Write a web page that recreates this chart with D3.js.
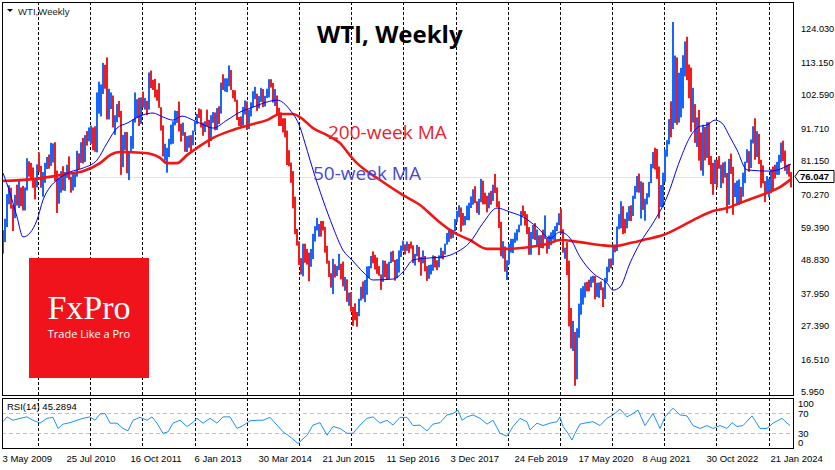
<!DOCTYPE html>
<html><head><meta charset="utf-8">
<script src="https://cdn.jsdelivr.net/npm/d3@7"></script>
<style>html,body{margin:0;padding:0;background:#fff}svg{display:block}</style>
</head><body>
<svg id="chart" width="835" height="470"></svg>
<script>
// ---------- DATA (two-week periods starting 26 Apr 2009) ----------
const firstPeriod = "2009-04-26";
const periodDays = 14;
const highs = [
 58.6,62.3,70.3,73.2,72.4,66.9,70.1,73.4,75,72.5,73,72.5,82,81,80.5,79,75,80,
 83.9,79.5,77.5,80.5,82.4,83.2,87,86.8,87.2,78,75.7,77.8,79.4,77.5,79.9,82.6,76,77,77.5,84.4,83.6,87.2,88.6,89.5,90.8,92,
 92.6,92,92.4,103.4,106.9,106,113,112.4,114.8,104.6,103.4,102.4,96,99.6,100.6,97.4,89.6,90.5,90.5,84.2,89.2,94.7,103.4,101.2,101.7,101.8,
 103.7,101.6,100.7,109.9,110.5,107.5,107.8,104.3,106.4,98.6,92.7,86.7,85.4,88.3,92.9,94,97.5,97.4,100.4,93.2,93.6,90.5,89.2,89.4,89.5,91,
 94,96.4,98.2,97.9,93.6,94,97.8,94.5,96,97,96.9,98.3,98.9,106.6,109.3,108,108,112.2,110.7,104.2,104.1,101,95.4,95.6,98.7,100.8,
 100.5,97.8,100.2,103.8,105.2,103,102.2,104.9,104.5,102.3,104.6,107.7,107.7,106.5,104.5,102.4,98.4,96.9,95,95,91,84.6,80.6,77.8,69.5,59,
 55,49.5,54.2,54.2,52.5,51.3,52.5,57.4,59.9,62.6,60.6,61.6,61.6,59.7,53.5,48.7,44.6,49.3,47.5,47,50.9,47.7,48.4,43.4,42.6,38.3,
 38.4,33.6,34.8,32,36.3,40.2,41.9,42.4,46.8,46.9,50.2,51.7,50.6,49.7,46.9,44.2,48.8,48.7,47.7,48.3,51.6,51.9,48.9,49.2,52,53.6,
 55.2,54,54.9,54.1,54.9,53.7,50.9,53.8,53.2,49.9,52,50.2,46.9,47.3,47.4,50.4,50.2,48.8,50.4,52.9,51.9,54.2,57.7,59.1,58.9,58.7,
 62.2,64.9,66.7,66,64.2,63.2,66.6,67.5,69.6,71.9,72.9,68,68.8,75.3,74.7,70.8,69.8,70.8,71.4,73.4,76.9,72.5,68,61.3,55,53.3,
 48.8,54.1,55.8,55.8,57.8,58.9,60.4,64.8,66.6,64.8,63.8,59.6,58,60.3,60.9,58.8,56.9,57,58.8,63.4,56.2,56.9,57.9,58.7,59.9,61.1,
 64.1,65.6,58.9,52.9,54.7,48.7,33.3,29.1,25.5,26.7,34.7,39.7,40.4,41.6,41.8,42.5,43.5,43.8,43.7,41.5,41.6,41.9,40,43.1,46.7,49.3,49.4,
 53.9,53.9,59.8,63.8,68,66.4,62.3,64.4,66.4,66.7,69.8,73,76.2,77,74.5,74.1,68.8,70.6,74.3,80.1,84,85.4,85,79.3,73.3,77.3,
 84.8,87.9,94.7,100.5,126.3,115.4,114.8,109.8,111.4,115.5,120,121.5,112.5,111.5,104.9,99.6,95.3,97.7,90.4,92.9,92.2,93.7,93.7,82.7,80.5,81.5,
 81.5,82.7,79.9,80.6,80.9,77.2,81.8,83.5,79.2,74,74.7,75.1,72.7,77.3,80.9,84.9,84.3,88.1,92.4,95,90.8,89.9,81.5,79.7,74.6,76.2,
 75.3,78.4,79.3,79.9,80.8,83.1,87.1,87.7,84.5,79.9,80.1,77.5
];
const lows = [
 51,54.7,59.6,67,65.6,58.3,62.5,66.6,65.8,66.4,65,65,71.5,76,75,72.4,68.6,72.5,
 77.5,72.4,69.5,74,78.5,78.6,79.5,80.6,74.5,64.2,67.2,70.8,71.5,71.4,75.6,75,70.8,71.5,72.6,76,78.5,80.5,80.3,80.8,86.1,87.5,
 86.7,84.6,84.1,83.9,96.5,95.6,102.9,104.6,94.6,94.6,98,92,89.6,93.7,95.3,76.6,79.1,84.6,77.1,74.9,84,85.1,93.6,95.1,92.5,93.2,
 98.5,97.8,96,97.8,104.8,104.2,101.8,100.7,98.4,91,82.6,81.2,77.3,82.4,86.5,86.7,92.7,93.5,90.7,87.4,89.3,84.1,84,85.4,84.1,86.2,
 90.6,93.1,95.1,92,89.3,90.5,92.4,85.6,87.6,93.5,91.1,91.2,93.1,96.5,104.2,103.7,103.5,105.4,104.2,101.5,100.4,94.4,92.5,91.8,92.6,96.2,
 91.2,91.5,95.6,98.6,101.2,97.4,98.2,100.3,98.6,98.8,101.6,101.8,105,100.1,99,96.1,92.5,92.5,90.4,88.8,79.8,79.4,74,65.7,57.3,53.6,
 47.3,44.2,43.6,48,47.4,42,46.7,49.2,54.9,58.5,56.5,56.5,58.5,51.3,47.7,43.4,39.9,37.8,43.2,43.7,45.6,42.6,40.3,38.9,35.3,34,
 32.1,27.5,29.3,27.2,30.6,35.7,36.3,35.2,37.6,43,46.2,47.8,45.8,44.4,43.8,39.2,41.8,43.3,42.5,42.6,47.9,48.3,42.2,43,44.8,49.9,
 51.9,50.7,51.9,51.2,52.6,47.9,47.1,50.1,48.2,43.8,47.8,45.2,42.1,42.8,44.2,45.4,46.5,45.6,46.5,49.4,49.1,50.7,53.9,54.8,55.8,56.1,
 58.2,61.2,62.8,58.1,60.1,60.2,61.9,61.8,65.8,66.9,67.4,64.2,63.6,67.7,67,67,64.4,65.7,66.9,68.1,70.7,66.1,59.3,50.1,49.4,45.1,
 42.4,47.5,51.3,51.2,54.5,55.2,57.9,60.1,63.1,60.1,57.3,50.6,50.6,55.7,55.4,53.6,50.5,52.8,52.7,55.7,51,52.5,53.7,55.5,54.7,58.3,
 60.2,57.4,51.3,49.3,44,27.3,20.1,19.3,8,10.1,23.6,31.1,34.4,36.7,38.7,38.7,40,41.5,36.1,36.9,36.6,39.1,33.6,36.2,41.8,44.9,46.2,
 47.2,51.4,51.8,58.9,59.2,57.3,57.6,59.2,61.6,61.6,63.2,68.8,70.9,70.8,62.4,65.2,61.7,67,69.3,73.9,78.7,78.3,75.3,62.4,66.1,66.1,
 74.3,82.5,86.5,88.8,91.5,93.5,92.9,93.6,95.3,98.2,108.6,107.4,101.5,90.6,93.6,87,85.7,81.2,78,76.3,81.3,82.1,79.8,73.6,70.1,73.6,
 72.5,78.6,72.3,73.8,75.7,64.1,66.8,76.9,63.6,69.4,67,66.8,67.1,69.5,73.9,80.5,77.6,78.8,86.8,81.5,82.4,80.1,72.4,73.8,67.7,70.8,
 69.3,70.6,71.4,75.4,76.6,76.6,80.6,81.1,77.9,76.8,76,72.5
];
const closes = [
 58.6,61.7,68.4,69.6,66.7,63.6,69.5,67.5,72.7,69.3,66,71.8,80.5,77.4,77,75.5,73.4,79.4,
 78,72.9,74.1,79.7,81.2,80,84.9,85.1,75.1,70,71.5,77.2,72.1,76,78.9,75.4,75.2,76.4,76.5,82.7,81.7,86.9,81.5,89.2,88,91.4,
 91.5,89.3,85.6,97.9,101.2,105.4,112.8,112.3,97.2,99.5,100.2,93,95,97.2,95.7,85.4,85.4,87.2,79.9,82.9,87.4,94.3,97.4,101,93.5,98.8,
 98.7,99.6,98.7,109.8,107.4,106.9,103.3,103,98.5,91.5,83.2,84,85,87.1,90.1,92.9,96.2,96.4,92.9,89.9,90.1,84.9,86.9,88.9,86.7,90.8,
 93.6,95.9,95.7,93.1,91.9,93.7,92.7,88,95.6,96,92,97.9,96.6,106,104.7,106,106.4,110.5,104.7,103.8,100.8,94.6,93.8,92.7,96.6,100.3,
 92.7,96.6,99.9,102.2,102.6,99.5,101.1,104.3,99.8,102,102.7,107,105.7,100.8,102.1,97.7,93.7,93.3,92.4,89.7,82.8,80.5,75.8,66.2,57.8,54.7,
 48.4,45.6,51.7,50.8,49.6,45.7,49.1,55.7,59.2,59.7,60.3,60,59.6,52.7,48.1,43.9,40.5,46.1,44.7,45.5,47.3,46.6,40.7,41.7,35.6,38.1,
 33.2,32.2,30.9,29.6,35.9,39.4,36.8,40.4,45.9,46.2,49.3,49.1,47.6,45.4,44.2,41.8,48.5,44.4,43,48.2,50.4,48.7,43.4,46.1,51.5,53,
 54,52.4,53.8,53.4,53.3,48.8,50.6,53.2,49.3,47.8,49.8,45.8,43,44.2,45.8,49.6,48.5,47.3,49.9,51.7,51.5,53.9,56.7,59,57.4,58.5,
 61.4,63.4,65.5,61.7,61.3,62.3,64.9,67.4,68.1,70.7,67.9,65.7,68.6,73.8,70.5,68.5,65.9,69.8,69,73.2,71.3,67.6,60.2,50.4,52.6,45.6,
 48,53.8,55.3,55.6,55.8,58.5,60.1,63.9,63.3,61.7,58.6,54,57.4,57.5,55.6,55.7,54.9,55.1,54.9,55.9,54.7,56.7,57.2,57.8,59.2,60.4,
 63,58.5,51.6,52,44.8,31.7,21.5,22.8,17,24.7,33.3,39.6,39.8,40.7,40.6,40.3,42,43,37.3,40.3,40.6,39.9,37.1,42.2,46.3,49.1,48.5,
 52.4,52.2,59.5,61.5,65.6,61,59.3,62.1,64.9,63.6,69.6,71.6,75.2,71.8,74,68.4,68.7,69.7,74,79.4,83.8,81.3,76.1,66.3,70.9,75.2,
 83.8,86.8,93.1,91.6,109.3,113.9,98.3,102.1,109.8,113.2,118.9,109.6,108.4,97.6,98.6,92.1,93.1,86.8,78.7,92.6,85,92.6,80.1,80,74.3,80.3,
 79.9,79.7,79.7,76.3,76.7,69.3,80.7,77.9,71.3,71.7,71.7,71.8,70.6,75.4,80.6,83.2,79.8,87.5,90,82.8,88.1,80.5,75.9,74.1,71.4,71.7,
 72.7,78,76.8,76.5,78,80.6,86.9,83.1,78.1,80,77,76.05
];
// moving averages: weeks since 3 May 2009 and value
const ma200Weeks = [-1,30,64,80,97,107,117,142,157,164,174,184,197,210,230,250,264,277,290,297,310,324,337,349,354,377,400,417,434,450,467,484,504,527,544,557,577,597,610,627,644,660,677,694,710,724,740,764,777,788];
const ma200Values = [74.6,75.2,76.9,77.8,80.4,83.0,84.0,83.7,82.1,80.4,80.4,83.0,86.0,88.6,91.2,93.1,94.4,96.4,96.4,95.4,91.8,89.5,86.9,82.1,80.4,74.9,70.0,66.8,61.9,58.0,55.4,52.5,52.5,53.1,54.1,55.4,54.7,53.8,53.4,54.4,55.7,57.0,59.6,62.5,64.8,65.8,67.8,70.7,72.6,75.2];
const ma50Weeks = [0,7,14,20,27,34,40,47,54,67,80,94,104,114,124,140,150,160,170,179,190,197,210,224,237,250,264,274,287,297,302,307,310,320,330,340,349,360,370,390,400,410,424,440,454,467,480,494,507,520,534,547,557,567,577,590,604,610,617,627,637,650,664,677,687,697,704,712,719,727,734,744,767,788];
const ma50Values = [77.2,70.7,62.9,56.4,57.7,61.9,68.4,72.6,74.9,77.5,78.8,81.4,86.9,91.8,93.4,96.1,96.7,95.4,94.4,95.7,94.4,93.4,91.8,94.4,97.0,98.6,100.3,100.9,97.7,92.1,86.9,81.4,78.2,68.4,59.6,52.1,48.9,45.0,42.4,42.7,45.0,48.9,49.5,49.9,51.5,54.7,60.9,65.8,64.5,62.9,59.6,56.0,58.0,56.0,49.9,44.6,41.4,39.1,40.1,47.9,54.4,60.9,69.4,81.4,88.9,92.4,92.8,94.4,93.4,88.9,84.7,78.2,77.8,80.1];
// RSI(14)
const rsiWeeks = [0,4,10,17,24,30,37,44,50,55,60,67,74,80,87,92,97,102,107,114,120,125,130,137,144,149,154,160,165,170,177,184,189,194,200,207,214,220,227,234,240,247,254,260,267,274,280,287,295,304,310,317,324,330,337,344,350,357,364,370,377,384,390,397,404,410,417,424,430,437,444,450,455,459,464,470,477,484,490,497,504,510,517,524,527,534,540,547,554,557,560,565,569,572,577,584,590,597,604,610,617,624,630,635,642,650,657,662,670,677,684,690,697,704,710,717,724,729,734,740,749,757,764,770,779,784,787];
const rsiValues = [53,63,56,60,63,56,50,60,62,39,48,51,56,60,63,56,69,70,50,50,39,34,56,62,56,63,50,29,32,50,56,43,50,60,50,60,50,63,63,39,45,55,56,56,62,46,32,22,8,25,46,51,25,43,39,29,29,46,60,63,50,56,46,62,62,45,46,34,48,51,67,70,77,56,63,67,60,48,56,29,23,43,60,53,36,50,45,50,53,63,43,29,15,29,48,51,53,45,60,67,79,63,70,77,45,70,39,63,81,67,65,45,39,45,39,45,39,51,43,45,65,39,39,50,60,50,45.29];
const priceTicks = [124.03,113.15,102.59,91.71,81.15,70.27,59.39,48.83,37.95,27.39,16.51,5.95];
const rsiTicks = [100,70,30,0];
const rsiLevels = [70,30];
const dateLabels = ["3 May 2009","25 Jul 2010","16 Oct 2011","6 Jan 2013","30 Mar 2014","21 Jun 2015","11 Sep 2016","3 Dec 2017","24 Feb 2019","17 May 2020","8 Aug 2021","30 Oct 2022","21 Jan 2024"];
const gridYears = [2010,2011,2012,2013,2014,2015,2016,2017,2018,2019,2020,2021,2022,2023,2024];
const lastPrice = 76.047;
const lastRsi = 45.2894;

if (lows.length !== highs.length || closes.length !== highs.length)
  throw new Error("length mismatch " + highs.length + " " + lows.length + " " + closes.length);

// ---------- LAYOUT ----------
const left = 2, right = 794, mainTop = 2, mainBottom = 395, rsiTop = 398, rsiBottom = 449;
const DAY = 864e5, WEEK = 7 * DAY;
const t0 = Date.UTC(2009, 4, 3);
const weekDate = w => new Date(t0 + w * WEEK);
const x = d3.scaleUtc().domain([weekDate(-1), weekDate(791)]).range([left, right]);
const y = d3.scaleLinear().domain([4.99, 132.81]).range([mainBottom, mainTop]);
const yR = d3.scaleLinear().domain([0, 100]).range([447.3, 399]);

const svg = d3.select("#chart");
const defs = svg.append("defs");
defs.append("clipPath").attr("id", "cm").append("rect")
  .attr("x", left).attr("y", mainTop).attr("width", right - left).attr("height", mainBottom - mainTop);
defs.append("clipPath").attr("id", "cr").append("rect")
  .attr("x", left).attr("y", rsiTop).attr("width", right - left).attr("height", rsiBottom - rsiTop);

svg.append("rect").attr("width", 835).attr("height", 470).attr("fill", "#fff");

const main = svg.append("g").attr("clip-path", "url(#cm)");
const rsiG = svg.append("g").attr("clip-path", "url(#cr)");

// current price line
main.append("line").attr("x1", left).attr("x2", right)
  .attr("y1", Math.round(y(lastPrice)) + 0.5).attr("y2", Math.round(y(lastPrice)) + 0.5)
  .attr("stroke", "#e4e4e4").attr("stroke-width", 1);

// grid lines (first bar of each year)
const gridDates = gridYears.map(yr => d3.utcSunday.ceil(new Date(Date.UTC(yr, 0, 1))));
[ [main, mainTop, mainBottom], [rsiG, rsiTop, rsiBottom] ].forEach(([g, a, b]) => {
  g.selectAll(null).data(gridDates).enter().append("line")
    .attr("x1", d => Math.round(x(d)) + 0.5).attr("x2", d => Math.round(x(d)) + 0.5)
    .attr("y1", a).attr("y2", b)
    .attr("stroke", "#000").attr("stroke-width", 1).attr("stroke-dasharray", "3,2");
});

// price bars
const p0 = Date.parse(firstPeriod + "T00:00:00Z");
const bars = highs.map((h, i) => ({
  t0: new Date(p0 + i * periodDays * DAY),
  t1: new Date(p0 + (i + 1) * periodDays * DAY),
  h, l: lows[i], c: closes[i],
  up: i === 0 ? true : closes[i] >= closes[i - 1]
}));
main.selectAll("rect.bar").data(bars).enter().append("rect").attr("class", "bar")
  .attr("x", d => x(d.t0)).attr("width", d => x(d.t1) - x(d.t0))
  .attr("y", d => y(d.h)).attr("height", d => Math.max(1, y(d.l) - y(d.h)))
  .attr("fill", d => d.up ? "#1466ff" : "#f21c1c");

// moving averages
const lineGen = d3.line().x(d => x(weekDate(d[0]))).y(d => y(d[1])).curve(d3.curveMonotoneX);
main.append("path").datum(ma200Weeks.map((w, i) => [w, ma200Values[i]]))
  .attr("d", lineGen).attr("fill", "none").attr("stroke", "#f01616").attr("stroke-width", 2.6);
main.append("path").datum(ma50Weeks.map((w, i) => [w, ma50Values[i]]))
  .attr("d", lineGen).attr("fill", "none").attr("stroke", "#0000ff").attr("stroke-width", 1);

// RSI pane
rsiG.selectAll(null).data(rsiLevels).enter().append("line")
  .attr("x1", left).attr("x2", right)
  .attr("y1", d => Math.round(yR(d)) + 0.5).attr("y2", d => Math.round(yR(d)) + 0.5)
  .attr("stroke", "#c0c0c0").attr("stroke-dasharray", "4,3");
const rsiLine = d3.line().x(d => x(weekDate(d[0]))).y(d => yR(d[1]));
rsiG.append("path").datum(rsiWeeks.map((w, i) => [w, rsiValues[i]]))
  .attr("d", rsiLine).attr("fill", "none").attr("stroke", "#1e90ff").attr("stroke-width", 1);

// pane borders
svg.append("rect").attr("x", left + 0.5).attr("y", mainTop + 0.5)
  .attr("width", right - left - 1).attr("height", mainBottom - mainTop)
  .attr("fill", "none").attr("stroke", "#000");
svg.append("rect").attr("x", left + 0.5).attr("y", rsiTop + 0.5)
  .attr("width", right - left - 1).attr("height", rsiBottom - rsiTop - 1)
  .attr("fill", "none").attr("stroke", "#000");

// price axis labels
const axisFont = "'Liberation Sans', Arial, sans-serif";
svg.selectAll("text.py").data(priceTicks).enter().append("text").attr("class", "py")
  .attr("x", 801).attr("y", d => y(d)).attr("dy", "0.35em")
  .attr("font-family", axisFont).attr("font-size", 9.2).attr("fill", "#000")
  .text(d => d3.format(".3f")(d));

// last price box
const ly = y(lastPrice);
svg.append("path")
  .attr("d", `M795,${ly} L799,${ly - 6} L834,${ly - 6} L834,${ly + 6} L799,${ly + 6} Z`)
  .attr("fill", "#fff").attr("stroke", "#000").attr("stroke-width", 1);
svg.append("text").attr("x", 800).attr("y", ly).attr("dy", "0.35em")
  .attr("font-family", axisFont).attr("font-size", 9.5).attr("font-weight", "bold").attr("fill", "#000")
  .text(d3.format(".3f")(lastPrice));

// RSI axis labels
svg.selectAll("text.ry").data(rsiTicks).enter().append("text").attr("class", "ry")
  .attr("x", 798).attr("y", d => Math.min(443, Math.max(404, yR(d) + 0.5))).attr("dy", "0.35em")
  .attr("font-family", axisFont).attr("font-size", 9.5).attr("fill", "#000")
  .text(d => d);

// date labels
const parseD = d3.utcParse("%d %b %Y");
svg.selectAll("text.dx").data(dateLabels).enter().append("text").attr("class", "dx")
  .attr("x", d => x(parseD(d)) - 0.5).attr("y", 462)
  .attr("font-family", axisFont).attr("font-size", 9.5).attr("fill", "#000")
  .text(d => d);

// top-left label
svg.append("path").attr("d", "M7,9 L13,9 L10,12 Z").attr("fill", "#000");
svg.append("text").attr("x", 18).attr("y", 15)
  .attr("font-family", axisFont).attr("font-size", 9.6).attr("fill", "#222").text("WTI,Weekly");
svg.append("text").attr("x", 7).attr("y", 407).attr("dy", "0.35em")
  .attr("font-family", axisFont).attr("font-size", 9.5).attr("fill", "#000")
  .text("RSI(14) " + d3.format(".4f")(lastRsi));

// annotations
svg.append("text").attr("x", 317).attr("y", 43)
  .attr("font-family", "'Open Sans', sans-serif").attr("font-weight", 700).attr("font-size", 24)
  .attr("fill", "#000").text("WTI, Weekly");
svg.append("text").attr("x", 328).attr("y", 139)
  .attr("font-family", "'Open Sans', sans-serif").attr("font-size", 19)
  .attr("fill", "#e8232d").text("200-week MA");
svg.append("text").attr("x", 313).attr("y", 180)
  .attr("font-family", "'Open Sans', sans-serif").attr("font-size", 19)
  .attr("fill", "#4a4ad0").text("50-week MA");

// FxPro logo
svg.append("rect").attr("x", 29).attr("y", 258).attr("width", 120).attr("height", 120).attr("fill", "#f0131b");
svg.append("text").attr("x", 89).attr("y", 319).attr("text-anchor", "middle")
  .attr("font-family", "'Liberation Serif', 'DejaVu Serif', serif").attr("font-size", 34)
  .attr("fill", "#fff").text("FxPro");
svg.append("text").attr("x", 89).attr("y", 338).attr("text-anchor", "middle")
  .attr("font-family", "'Open Sans', sans-serif").attr("font-size", 11)
  .attr("fill", "#fff").text("Trade Like a Pro");
</script>
</body></html>
